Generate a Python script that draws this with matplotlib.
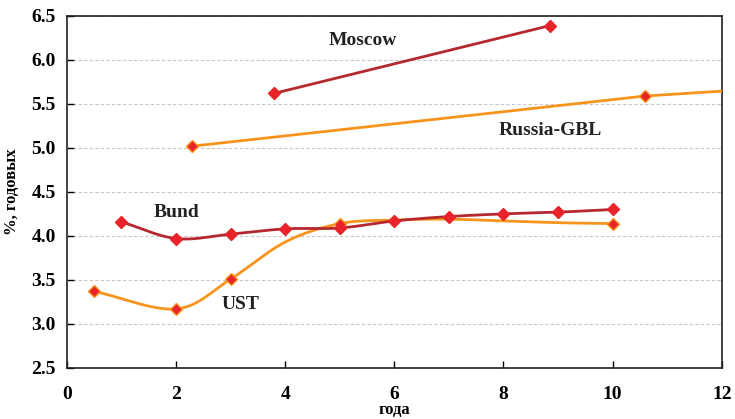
import numpy as np
import matplotlib
matplotlib.use("Agg")
import matplotlib.pyplot as plt

# ---- data ----
moscow_x = [3.8, 8.85]
moscow_y = [5.62, 6.39]

gbl_x = [2.3, 10.6, 12.0]
gbl_y = [5.02, 5.59, 5.645]
gbl_marked = [0, 1]

bund_x = [1, 2, 3, 4, 5, 6, 7, 8, 9, 10]
bund_y = [4.16, 3.97, 4.02, 4.08, 4.09, 4.17, 4.22, 4.25, 4.27, 4.30]

ust_x = [0.5, 2, 3, 4, 5, 6, 7, 8, 9, 10]
ust_y = [3.37, 3.17, 3.51, 3.93, 4.14, 4.18, 4.19, 4.17, 4.15, 4.14]
ust_marked = [0, 1, 2, 4, 9]

x_ticks = [0, 2, 4, 6, 8, 10, 12]
y_ticks = [2.5, 3.0, 3.5, 4.0, 4.5, 5.0, 5.5, 6.0, 6.5]

C_DARK = "#b5292e"
C_ORANGE = "#f7941d"
C_MARK = "#e8232a"


def smooth(x, y, n=30):
    x = np.asarray(x, float)
    y = np.asarray(y, float)
    if len(x) < 3:
        return x, y
    P = np.column_stack([x, y])
    P = np.vstack([P[0] - (P[1] - P[0]), P, P[-1] + (P[-1] - P[-2])])
    out = []
    t = np.linspace(0, 1, n)[:, None]
    for i in range(1, len(P) - 2):
        p0, p1, p2, p3 = P[i - 1], P[i], P[i + 1], P[i + 2]
        b1 = p1 + (p2 - p0) / 6
        b2 = p2 - (p3 - p1) / 6
        seg = ((1 - t) ** 3) * p1 + 3 * ((1 - t) ** 2) * t * b1 + 3 * (1 - t) * t ** 2 * b2 + t ** 3 * p2
        out.append(seg if i == 1 else seg[1:])
    S = np.vstack(out)
    return S[:, 0], S[:, 1]


plt.rcParams['font.family'] = ['Liberation Serif', 'DejaVu Serif']
plt.rcParams['font.weight'] = 'bold'

fig = plt.figure(figsize=(7.35, 4.19), dpi=100)
ax = fig.add_axes([0.091, 0.122, 0.891, 0.840])

mk = dict(marker='D', markersize=6.5, markerfacecolor=C_MARK, markeredgecolor=C_MARK, linestyle='none', zorder=4)

# Moscow
ax.plot(moscow_x, moscow_y, color=C_DARK, lw=2, zorder=3)
ax.plot(moscow_x, moscow_y, **mk)

# Russia-GBL
ax.plot(gbl_x, gbl_y, color=C_ORANGE, lw=2, zorder=3)
ax.plot([gbl_x[i] for i in gbl_marked], [gbl_y[i] for i in gbl_marked],
        **{**mk, 'markeredgecolor': C_ORANGE, 'markeredgewidth': 1})

# UST
sx, sy = smooth(ust_x, ust_y)
ax.plot(sx, sy, color=C_ORANGE, lw=2, zorder=3)
ax.plot([ust_x[i] for i in ust_marked], [ust_y[i] for i in ust_marked],
        **{**mk, 'markeredgecolor': C_ORANGE, 'markeredgewidth': 1})

# Bund
sx, sy = smooth(bund_x, bund_y)
ax.plot(sx, sy, color=C_DARK, lw=2, zorder=3)
ax.plot(bund_x, bund_y, **mk)

ax.set_xlim(0, 12)
ax.set_ylim(2.5, 6.5)
ax.set_xticks(x_ticks)
ax.set_yticks(y_ticks)
ax.set_yticklabels([f"{v:.1f}" for v in y_ticks])
ax.tick_params(axis='both', direction='in', length=5, labelsize=14, width=1)
ax.tick_params(axis='x', pad=13)
ax.tick_params(axis='y', pad=8)
for lab in ax.get_xticklabels() + ax.get_yticklabels():
    lab.set_fontweight('bold')

ax.grid(axis='y', color='#c8c8c8', linestyle=(0, (3, 2)), linewidth=0.8)
ax.set_axisbelow(True)
for s in ax.spines.values():
    s.set_linewidth(1.2)
    s.set_color('#222222')

ax.set_xlabel('года', fontsize=12, fontweight='bold', labelpad=-1)
ax.set_ylabel('%, годовых', fontsize=12, fontweight='bold', labelpad=8)

tk = dict(fontsize=14, fontweight='bold', ha='center', va='center', color='#222222')
ax.text(5.43, 6.22, 'Moscow', **tk)
ax.text(8.86, 5.2, 'Russia-GBL', **tk)
ax.text(2.0, 4.27, 'Bund', **tk)
ax.text(3.18, 3.22, 'UST', **tk)

fig.savefig('out.png', dpi=100)
